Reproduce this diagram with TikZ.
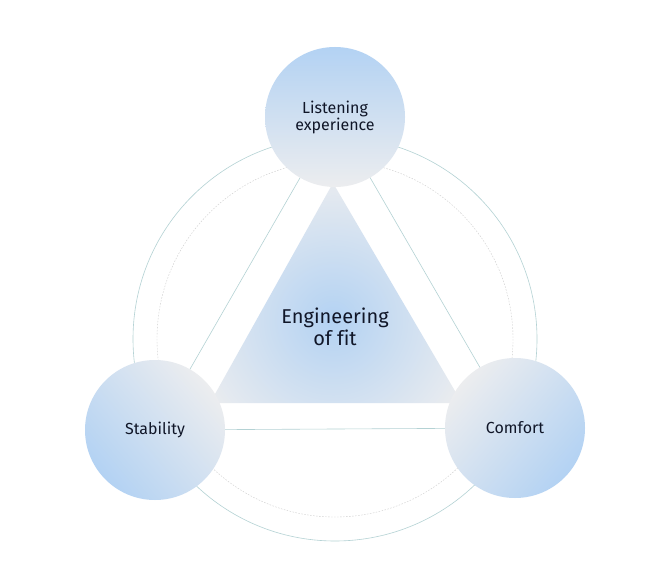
\documentclass[tikz,border=0pt]{standalone}
\usepackage{fontspec}
\setmainfont{Fira Sans}[Ligatures=NoCommon]
\usetikzlibrary{shadings}
\definecolor{bl}{HTML}{B3D2F3}
\definecolor{gr}{HTML}{ECEDEF}
\definecolor{ln}{HTML}{B4D2D4}
\definecolor{tx}{HTML}{101628}
\begin{document}
\begin{tikzpicture}[x=1pt,y=-1pt,
  ball/.style={circle,minimum size=140pt,inner sep=0pt,align=center,text=tx,font=\fontsize{16}{18}\selectfont},
  conn/.style={draw=ln,line width=0.6pt}]
\useasboundingbox (0,0) rectangle (671,588);
\fill[white] (0,0) rectangle (671,588);
\coordinate (c) at (335,339);
\draw[ln,line width=0.6pt] (c) circle[radius=202];
\draw[gray!40,line width=0.4pt,dash pattern=on 1.5pt off 1.5pt] (c) circle[radius=178];
\coordinate (t) at (335,117);
\coordinate (l) at (155,430);
\coordinate (r) at (515,428);
\draw[conn] (t) -- (l) -- (r) -- cycle;
\begin{scope}
\clip (333,183) -- (210,403) -- (462,403) -- cycle;
\fill[white] (200,180) rectangle (470,410);
\shade[inner color=bl,outer color=gr] (333,320) circle[radius=150];
\end{scope}
\shade[shading=axis,top color=bl,bottom color=gr,shading angle=0] (t) circle[radius=70];
\shade[shading=axis,top color=gr,bottom color=bl,shading angle=-50] (l) circle[radius=70];
\shade[shading=axis,top color=gr,bottom color=bl,shading angle=50] (r) circle[radius=70];
\node[ball] (nt) at (t) {Listening\\[-1pt]experience};
\node[ball] (nl) at (l) {Stability};
\node[ball] (nr) at (r) {Comfort};
\node[align=center,text=tx,font=\fontsize{20}{22}\selectfont] (ce) at (335,327) {Engineering\\of fit};
\end{tikzpicture}
\end{document}
